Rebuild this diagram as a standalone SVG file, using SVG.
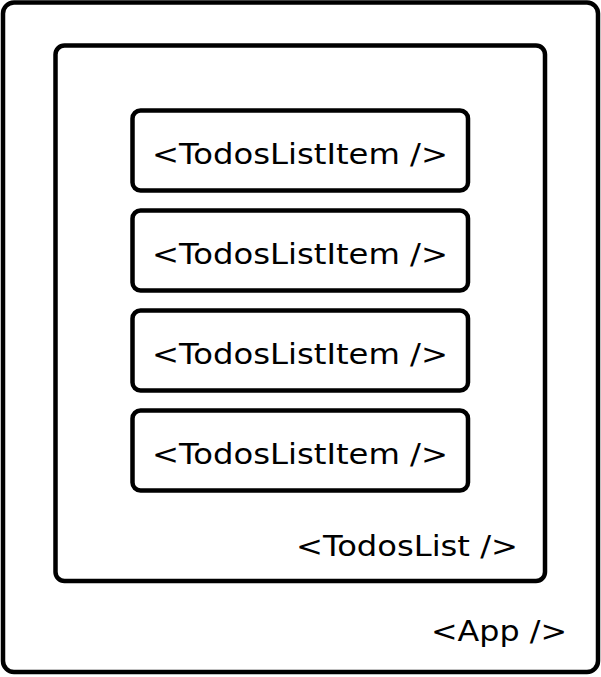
<svg xmlns="http://www.w3.org/2000/svg" width="601" height="677" viewBox="0 0 601 677">
<style>
.box{fill:#fff;stroke:#000;stroke-width:4.5}
.lbl{font-family:"DejaVu Sans","Open Sans",sans-serif;font-size:29px;fill:#000}
</style>
<rect width="601" height="677" fill="#fff"/>
<g id="app">
<rect class="box" x="3" y="2.5" width="595" height="669.5" rx="11"/>
<text class="lbl" x="431" y="641" textLength="136" lengthAdjust="spacingAndGlyphs">&lt;App /&gt;</text>
</g>
<g id="todoslist">
<rect class="box" x="55.5" y="45.5" width="489.5" height="535.5" rx="9"/>
<text class="lbl" x="296" y="556" textLength="222" lengthAdjust="spacingAndGlyphs">&lt;TodosList /&gt;</text>
</g>
<g id="item1">
<rect class="box" x="132.5" y="110.5" width="335.5" height="80" rx="8"/>
<text class="lbl" x="152" y="164" textLength="296" lengthAdjust="spacingAndGlyphs">&lt;TodosListItem /&gt;</text>
</g>
<g id="item2">
<rect class="box" x="132.5" y="210.5" width="335.5" height="80" rx="8"/>
<text class="lbl" x="152" y="264" textLength="296" lengthAdjust="spacingAndGlyphs">&lt;TodosListItem /&gt;</text>
</g>
<g id="item3">
<rect class="box" x="132.5" y="310.5" width="335.5" height="80" rx="8"/>
<text class="lbl" x="152" y="364" textLength="296" lengthAdjust="spacingAndGlyphs">&lt;TodosListItem /&gt;</text>
</g>
<g id="item4">
<rect class="box" x="132.5" y="410.5" width="335.5" height="80" rx="8"/>
<text class="lbl" x="152" y="464" textLength="296" lengthAdjust="spacingAndGlyphs">&lt;TodosListItem /&gt;</text>
</g>
<g id="connectors"/>
</svg>
